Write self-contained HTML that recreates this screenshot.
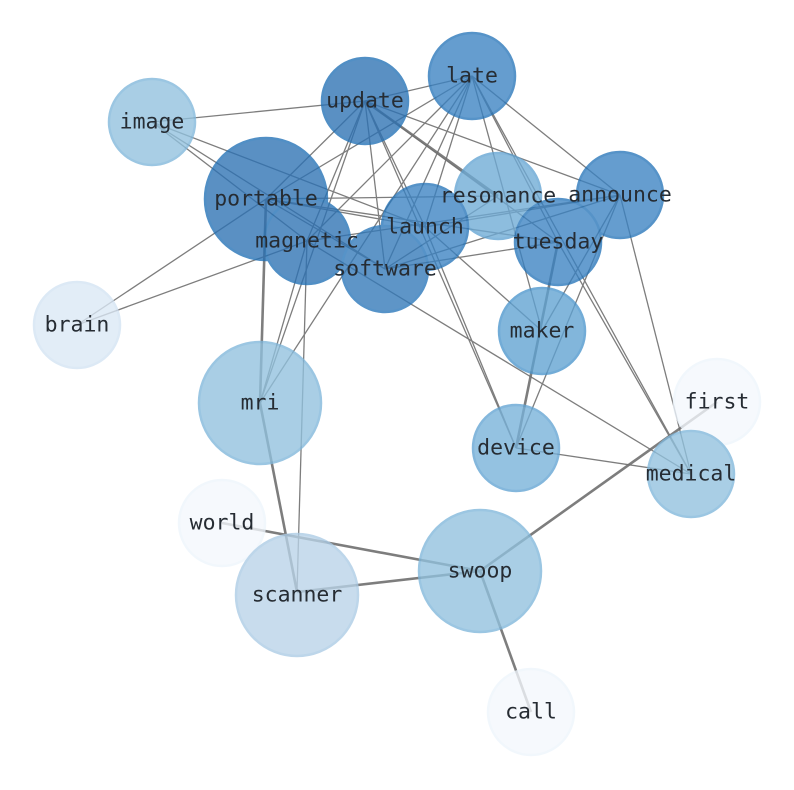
<!DOCTYPE html>
<html><head><meta charset="utf-8"><style>
html,body{margin:0;padding:0;background:#fff;}
svg{display:block}
text{font-family:"DejaVu Sans Mono","Liberation Mono",monospace;font-size:21.5px;fill:#262c33;text-anchor:middle;dominant-baseline:central;}
</style></head><body>
<svg width="794" height="790" viewBox="0 0 794 790">
<g stroke="#707070" stroke-width="1.3" fill="none" opacity="0.9">
<line x1="152" y1="122" x2="365" y2="101"/>
<line x1="152" y1="122" x2="385" y2="269"/>
<line x1="152" y1="122" x2="425" y2="227"/>
<line x1="152" y1="122" x2="307" y2="241"/>
<line x1="365" y1="101" x2="472" y2="76"/>
<line x1="365" y1="101" x2="266" y2="199"/>
<line x1="365" y1="101" x2="307" y2="241"/>
<line x1="365" y1="101" x2="260" y2="403"/>
<line x1="365" y1="101" x2="385" y2="269"/>
<line x1="365" y1="101" x2="425" y2="227"/>
<line x1="365" y1="101" x2="558" y2="242"/>
<line x1="365" y1="101" x2="620" y2="195"/>
<line x1="365" y1="101" x2="516" y2="448"/>
<line x1="472" y1="76" x2="266" y2="199"/>
<line x1="472" y1="76" x2="307" y2="241"/>
<line x1="472" y1="76" x2="385" y2="269"/>
<line x1="472" y1="76" x2="425" y2="227"/>
<line x1="472" y1="76" x2="558" y2="242"/>
<line x1="472" y1="76" x2="542" y2="331"/>
<line x1="472" y1="76" x2="620" y2="195"/>
<line x1="472" y1="76" x2="691" y2="474"/>
<line x1="472" y1="76" x2="260" y2="403"/>
<line x1="266" y1="199" x2="77" y2="325"/>
<line x1="266" y1="199" x2="498" y2="196"/>
<line x1="266" y1="199" x2="425" y2="227"/>
<line x1="266" y1="199" x2="558" y2="242"/>
<line x1="266" y1="199" x2="385" y2="269"/>
<line x1="307" y1="241" x2="77" y2="325"/>
<line x1="307" y1="241" x2="620" y2="195"/>
<line x1="307" y1="241" x2="260" y2="403"/>
<line x1="307" y1="241" x2="297" y2="592"/>
<line x1="307" y1="241" x2="691" y2="474"/>
<line x1="385" y1="269" x2="620" y2="195"/>
<line x1="385" y1="269" x2="558" y2="242"/>
<line x1="385" y1="269" x2="498" y2="196"/>
<line x1="425" y1="227" x2="620" y2="195"/>
<line x1="425" y1="227" x2="516" y2="448"/>
<line x1="425" y1="227" x2="542" y2="331"/>
<line x1="620" y1="195" x2="542" y2="331"/>
<line x1="620" y1="195" x2="516" y2="448"/>
<line x1="620" y1="195" x2="691" y2="474"/>
<line x1="558" y1="242" x2="691" y2="474"/>
<line x1="516" y1="448" x2="691" y2="474"/>
</g>
<g stroke="#707070" stroke-width="2.6" fill="none" opacity="0.9">
<line x1="365" y1="101" x2="498" y2="196"/>
<line x1="266" y1="199" x2="260" y2="403"/>
<line x1="558" y1="242" x2="516" y2="448"/>
<line x1="260" y1="403" x2="297" y2="592"/>
<line x1="297" y1="592" x2="480" y2="571"/>
<line x1="222" y1="523" x2="480" y2="571"/>
<line x1="480" y1="571" x2="717" y2="402"/>
<line x1="480" y1="571" x2="531" y2="712"/>
</g>
<g stroke-width="2.5" opacity="0.78">
<circle cx="152" cy="122" r="43" fill="#91c1de" stroke="#80b7db"/>
<circle cx="77" cy="325" r="43" fill="#dbe8f5" stroke="#d3e3f3"/>
<circle cx="717" cy="402" r="43" fill="#f4f8fd" stroke="#eef5fc"/>
<circle cx="222" cy="523" r="43" fill="#f4f8fd" stroke="#eef5fc"/>
<circle cx="531" cy="712" r="43" fill="#f4f8fd" stroke="#eef5fc"/>
<circle cx="260" cy="403" r="61" fill="#91c1de" stroke="#80b7db"/>
<circle cx="297" cy="595" r="61" fill="#b9d3e8" stroke="#abcbe5"/>
<circle cx="480" cy="571" r="61" fill="#91c1de" stroke="#80b7db"/>
<circle cx="691" cy="474" r="43" fill="#91c1de" stroke="#80b7db"/>
<circle cx="516" cy="448" r="43" fill="#77b1d9" stroke="#62a4d3"/>
<circle cx="542" cy="331" r="43" fill="#5fa2d2" stroke="#4b95cc"/>
<circle cx="498" cy="196" r="43" fill="#6eabd6" stroke="#62a4d3"/>
<circle cx="472" cy="76" r="43" fill="#3a82c2" stroke="#2775b9"/>
<circle cx="365" cy="101" r="43" fill="#2c71b3" stroke="#2170b5"/>
<circle cx="620" cy="195" r="43" fill="#3a82c2" stroke="#2775b9"/>
<circle cx="266" cy="199" r="61" fill="#2c71b3" stroke="#2170b5"/>
<circle cx="425" cy="227" r="43" fill="#3a82c2" stroke="#2775b9"/>
<circle cx="558" cy="242" r="43" fill="#3a82c2" stroke="#2775b9"/>
<circle cx="307" cy="241" r="43" fill="#2c71b3" stroke="#2170b5"/>
<circle cx="385" cy="269" r="43" fill="#3278b8" stroke="#2775b9"/>
</g>
<g>
<text x="152" y="122">image</text>
<text x="365" y="101">update</text>
<text x="472" y="76">late</text>
<text x="266" y="199">portable</text>
<text x="498" y="196">resonance</text>
<text x="620" y="195">announce</text>
<text x="425" y="227">launch</text>
<text x="307" y="241">magnetic</text>
<text x="558" y="242">tuesday</text>
<text x="385" y="269">software</text>
<text x="77" y="325">brain</text>
<text x="542" y="331">maker</text>
<text x="260" y="403">mri</text>
<text x="717" y="402">first</text>
<text x="516" y="448">device</text>
<text x="691" y="474">medical</text>
<text x="222" y="523">world</text>
<text x="480" y="571">swoop</text>
<text x="297" y="595">scanner</text>
<text x="531" y="712">call</text>
</g>
</svg>
</body></html>
